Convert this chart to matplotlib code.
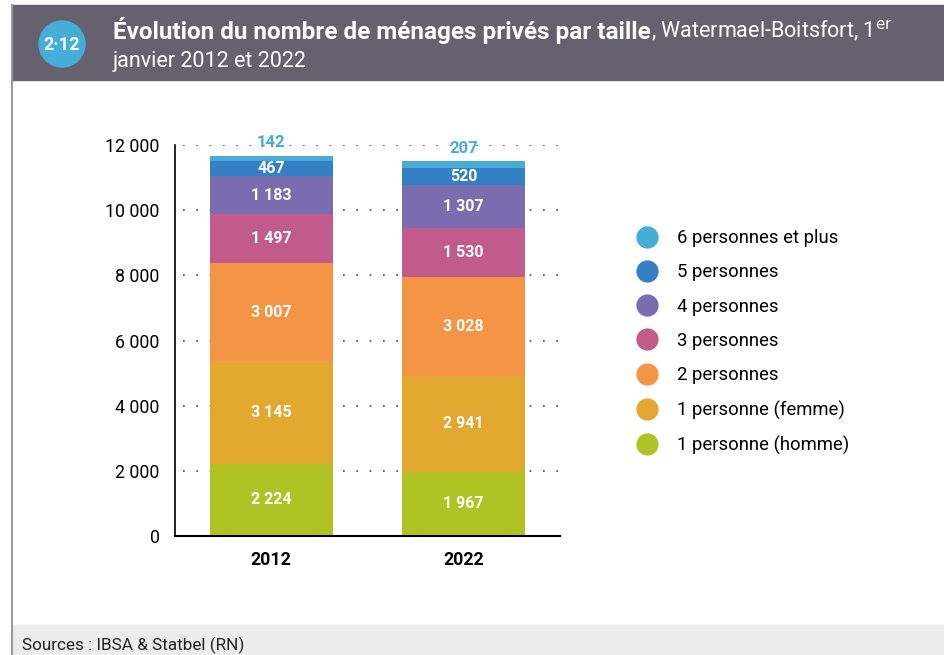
import matplotlib
matplotlib.use("Agg")
import matplotlib.pyplot as plt
from matplotlib.lines import Line2D
from matplotlib.patches import Rectangle, Ellipse

years = ["2012", "2022"]
categories = ["1 personne (homme)", "1 personne (femme)", "2 personnes",
              "3 personnes", "4 personnes", "5 personnes", "6 personnes et plus"]
values_2012 = [2224, 3145, 3007, 1497, 1183, 467, 142]
values_2022 = [1967, 2941, 3028, 1530, 1307, 520, 207]
colors = ["#afc424", "#e2a830", "#f39545", "#c05b8b", "#796db0", "#3580c4", "#45add8"]
yticks = [0, 2000, 4000, 6000, 8000, 10000, 12000]

FONT = ["Roboto", "DejaVu Sans"]
HEADER_GREY = "#65616f"

plt.rcParams['font.family'] = FONT


def fmt(v):
    return f"{v:,}".replace(",", " ")


def run():
    W, H = 945, 655
    fig = plt.figure(figsize=(W / 100, H / 100), dpi=100)

    # frame: header band, footer band, left border
    fig.add_artist(Rectangle((12 / W, 1 - 80 / H), 1, 75 / H,
                             transform=fig.transFigure, color=HEADER_GREY, zorder=0))
    fig.add_artist(Rectangle((12 / W, 0), 1, 30 / H,
                             transform=fig.transFigure, color="#ececec", zorder=0))
    fig.add_artist(Line2D([12 / W, 12 / W], [0, 1 - 5 / H],
                          transform=fig.transFigure, color="#9a9a9a", lw=1.5))
    fig.add_artist(Ellipse((62 / W, 1 - 44 / H), 46 / W, 46 / H,
                           transform=fig.transFigure, color="#45add8", zorder=2))
    fig.text(62 / W, 1 - 45 / H, "2·12", color="white", fontsize=13,
             fontweight="bold", ha="center", va="center", zorder=3)

    t1 = fig.text(113 / W, 1 - 30 / H, "Évolution du nombre de ménages privés par taille",
                  color="white", fontsize=17.5, fontweight="bold", va="center")
    fig.canvas.draw()
    ext = t1.get_window_extent()
    fig.text(ext.x1 / W, 1 - 31 / H, ", Watermael-Boitsfort, 1$^{\\rm er}$",
             color="white", fontsize=15.5, va="center")
    fig.text(113 / W, 1 - 62 / H, "janvier 2012 et 2022",
             color="white", fontsize=15.5, va="center")
    fig.text(22 / W, 1 - 645 / H, "Sources : IBSA & Statbel (RN)",
             color="#222222", fontsize=12.3, va="center")

    ax = fig.add_axes([175 / W, 1 - 536 / H, 385 / W, 391 / H])
    x = [0, 1]
    width = 0.64
    series = list(zip(values_2012, values_2022))
    bottom = [0, 0]
    for i, (cat, col) in enumerate(zip(categories, colors)):
        vals = list(series[i])
        ax.bar(x, vals, width, bottom=bottom, color=col, label=cat, zorder=2)
        for xi, v, b in zip(x, vals, bottom):
            if i == len(categories) - 1:
                ax.text(xi, b + v + 400, fmt(v), ha="center", va="center",
                        color=col, fontsize=12, fontweight="bold",
                        clip_on=False, zorder=3)
            else:
                ax.text(xi, b + v / 2, fmt(v), ha="center", va="center",
                        color="white", fontsize=11.5, fontweight="bold", zorder=3)
        bottom = [b + v for b, v in zip(bottom, vals)]

    ax.set_xlim(-0.5, 1.5)
    ax.set_ylim(0, 12000)
    ax.set_yticks(yticks)
    ax.set_yticklabels([fmt(t) for t in yticks], fontsize=12.8)
    ax.set_xticks(x)
    ax.set_xticklabels(years, fontsize=12.8, fontweight="bold")
    ax.tick_params(length=0, pad=11)
    ax.tick_params(axis="y", pad=11)
    for t in yticks[1:]:
        ax.axhline(t, xmin=0.02, xmax=1, color="#444444", lw=1.2,
                   linestyle=(0, (1, 7)), zorder=1)
    for s in ["top", "right"]:
        ax.spines[s].set_visible(False)
    ax.spines["left"].set_linewidth(1.2)
    ax.spines["bottom"].set_linewidth(1.5)

    handles = [Line2D([], [], marker="o", linestyle="none", markersize=15,
                      color=c, label=l) for c, l in zip(colors, categories)]
    fig.legend(handles=handles[::-1], loc="center left",
               bbox_to_anchor=(638 / W, 1 - 342 / H), frameon=False,
               fontsize=13.3, handlelength=1, handletextpad=1.1,
               labelspacing=0.88, borderpad=0, borderaxespad=0)

    fig.savefig("out.png", dpi=100)


if __name__ == '__main__':
    run()
